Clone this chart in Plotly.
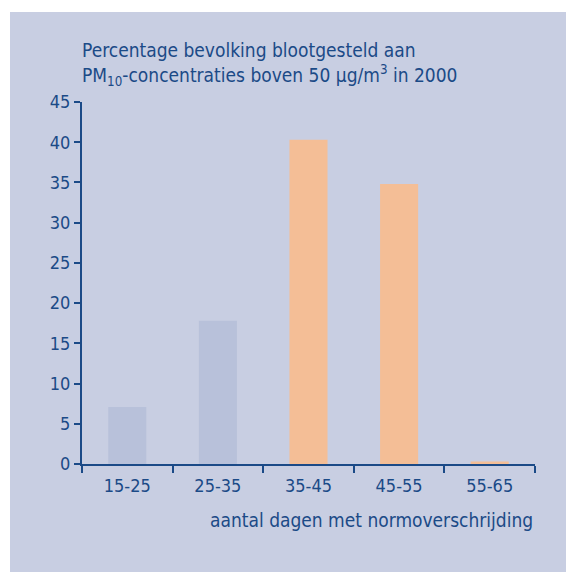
import plotly.graph_objects as go

# Aantal dagen met normoverschrijding (klassen) en percentage bevolking
categories = ["15-25", "25-35", "35-45", "45-55", "55-65"]
percentages = [7.1, 17.8, 40.3, 34.8, 0.3]
bar_colors = ["#B8C1DA", "#B8C1DA", "#F4BE96", "#F4BE96", "#F4BE96"]
y_ticks = [0, 5, 10, 15, 20, 25, 30, 35, 40, 45]

W, H = 566, 572
TEXT = "#1B4A87"
PANEL = "#C8CEE2"
FONT = "DejaVu Sans Condensed, Roboto, sans-serif"

# plot area in pixels
L, R, T, B = 82, 535, 102, 464
PW, PH = R - L, B - T

fig = go.Figure(
    go.Bar(
        x=categories,
        y=percentages,
        marker=dict(color=bar_colors, line=dict(width=0)),
        width=0.42,
    )
)

fig.update_layout(
    width=W,
    height=H,
    margin=dict(l=L, r=W - R, t=T, b=H - B, pad=0),
    paper_bgcolor="white",
    plot_bgcolor="white",
    showlegend=False,
    font=dict(family=FONT, color=TEXT, size=18),
    shapes=[
        dict(
            type="rect", xref="paper", yref="paper",
            x0=(10 - L) / PW, x1=(W - L) / PW,
            y0=(B - H) / PH, y1=(B - 12) / PH,
            fillcolor=PANEL, line=dict(width=0), layer="below",
        )
    ],
    annotations=[
        dict(
            text="Percentage bevolking blootgesteld aan<br>"
                 "PM<sub>10</sub>-concentraties boven 50 μg/m<sup>3</sup> in 2000",
            xref="paper", yref="paper", x=0.0, y=1.0,
            xshift=-2, yshift=11,
            xanchor="left", yanchor="bottom", align="left",
            showarrow=False, font=dict(size=19, color=TEXT, family=FONT),
        ),
        dict(
            text="aantal dagen met normoverschrijding",
            xref="paper", yref="paper", x=1.0, y=0.0,
            yshift=-43, xanchor="right", yanchor="top",
            showarrow=False, font=dict(size=19, color=TEXT, family=FONT),
        ),
    ],
)

fig.update_xaxes(
    showline=True, linecolor=TEXT, linewidth=2,
    ticks="outside", tickson="boundaries", ticklen=7, tickwidth=2, tickcolor=TEXT,
    ticklabelstandoff=4,
    showgrid=False, zeroline=False,
    tickfont=dict(size=18, color=TEXT, family=FONT),
    range=[-0.5, 4.5],
)
fig.update_yaxes(
    range=[0, 45], tickvals=y_ticks,
    showline=True, linecolor=TEXT, linewidth=2,
    ticks="outside", ticklen=6, tickwidth=2, tickcolor=TEXT,
    showgrid=False, zeroline=False,
    tickfont=dict(size=18, color=TEXT, family=FONT),
)

fig.write_html("out.html")
